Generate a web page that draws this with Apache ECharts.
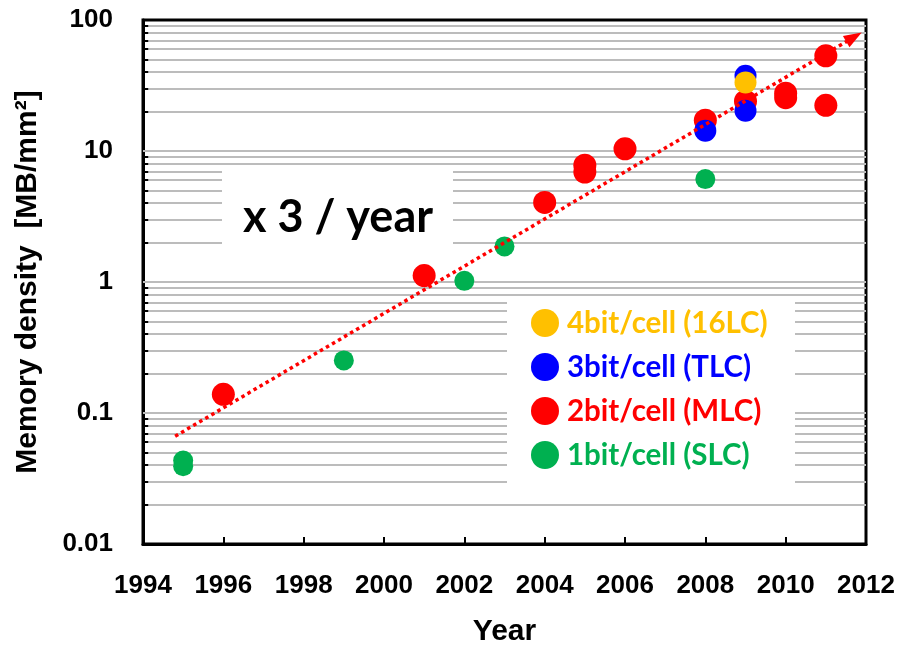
<!DOCTYPE html>
<html>
<head>
<meta charset="utf-8">
<script src="https://cdn.jsdelivr.net/npm/echarts@6/dist/echarts.min.js"></script>
<style>html,body{margin:0;padding:0;background:#fff;}#c{width:901px;height:652px;}</style>
</head>
<body>
<div id="c"></div>
<script>
// ---- data ----
const slcYears = [1995, 1995, 1999, 2002, 2003, 2008];
const slcValues = [0.0434, 0.0393, 0.252, 1.02, 1.87, 6.1];
const mlcYears = [1996, 2001, 2004, 2005, 2005, 2006, 2008, 2009, 2010, 2010, 2011, 2011];
const mlcValues = [0.139, 1.12, 4.05, 7.8, 6.9, 10.4, 17.2, 24, 27.6, 25.5, 53.3, 22.3];
const tlcYears = [2008, 2009, 2009];
const tlcValues = [14.3, 37.5, 20.3];
const qlcYears = [2009];
const qlcValues = [33.4];
const trendYears = [1994.8, 2011.7];
const trendValues = [0.0665, 74];
const seriesNames = ['4bit/cell (16LC)', '3bit/cell (TLC)', '2bit/cell (MLC)', '1bit/cell (SLC)'];
const yTickLabels = ['0.01', '0.1', '1', '10', '100'];
const decades = [0.01, 0.1, 1, 10];
const minorMultipliers = [1, 2, 3, 4, 5, 6, 7, 8, 9];

const colors = { qlc: '#FFC000', tlc: '#0000FF', mlc: '#FF0000', slc: '#00B050' };

function pairs(xs, ys) { return xs.map((x, i) => [x, ys[i]]); }

const gridVals = [];
decades.forEach(d => minorMultipliers.forEach(m => { const v = +(d * m).toPrecision(3); if (v > 0.01) gridVals.push(v); }));
const minorTickVals = gridVals.filter(v => !yTickLabels.includes(String(v)));

const chart = echarts.init(document.getElementById('c'), null, { renderer: 'canvas' });
const axisFont = { fontFamily: 'Liberation Sans', fontWeight: 'bold', fontSize: 26, color: '#000' };

const option = {
  animation: false,
  backgroundColor: '#fff',
  grid: { left: 143, right: 35, top: 20, bottom: 107, show: true, borderColor: '#000', borderWidth: 3 },
  xAxis: {
    type: 'value', min: 1994, max: 2012, interval: 2,
    name: 'Year', nameLocation: 'middle', nameGap: 73,
    nameTextStyle: { fontFamily: 'Liberation Sans', fontWeight: 'bold', fontSize: 30, color: '#000' },
    axisLine: { lineStyle: { color: '#000', width: 3 } },
    axisTick: { inside: true, length: 7, lineStyle: { color: '#000', width: 2 } },
    axisLabel: Object.assign({ margin: 29, formatter: v => String(v) }, axisFont),
    splitLine: { show: false }
  },
  yAxis: {
    type: 'log', logBase: 10, min: 0.01, max: 100,
    name: 'Memory density  [MB/mm²]', nameLocation: 'middle', nameGap: 100,
    nameTextStyle: { fontFamily: 'Liberation Sans', fontWeight: 'bold', fontSize: 30, color: '#000' },
    axisLine: { show: true, lineStyle: { color: '#000', width: 3 } },
    axisTick: { inside: true, length: 8, lineStyle: { color: '#000', width: 2 } },
    axisLabel: Object.assign({
      margin: 30,
      formatter: v => { const k = Math.round(Math.log10(v)) + 2; return yTickLabels[k] || ''; }
    }, axisFont),
    splitLine: { show: false }
  },
  legend: {
    orient: 'vertical', left: 526, top: 303, z: 10,
    itemWidth: 28, itemHeight: 28, itemGap: 14, icon: 'circle',
    textStyle: { fontFamily: 'Lato', fontWeight: 'bold', fontSize: 29.5, lineHeight: 28, padding: [0, 0, 0, 3] },
    data: [
      { name: seriesNames[0], textStyle: { color: colors.qlc } },
      { name: seriesNames[1], textStyle: { color: colors.tlc } },
      { name: seriesNames[2], textStyle: { color: colors.mlc } },
      { name: seriesNames[3], textStyle: { color: colors.slc } }
    ]
  },
  graphic: [
    { type: 'rect', z: 3, shape: { x: 222, y: 167, width: 231, height: 98 }, style: { fill: '#fff' } },
    { type: 'text', z: 4, x: 338, y: 217, style: { text: 'x 3 / year', font: 'bold 45px Lato', fill: '#000', textAlign: 'center', textVerticalAlign: 'middle' } },
    { type: 'rect', z: 3, shape: { x: 507, y: 298, width: 288, height: 194 }, style: { fill: '#fff' } }
  ],
  series: [
    {
      type: 'line', name: 'grid', data: [], silent: true, z: 1,
      markLine: {
        silent: true, z: 1, symbol: 'none', label: { show: false }, animation: false,
        lineStyle: { color: '#bcbcbc', width: 2, type: 'solid' },
        data: gridVals.map(v => ({ yAxis: v }))
      }
    },
    {
      type: 'line', name: 'minorTicks', data: [], silent: true, z: 2,
      markLine: {
        silent: true, z: 2, symbol: 'none', label: { show: false }, animation: false,
        lineStyle: { color: '#000', width: 2, type: 'solid' },
        data: minorTickVals.map(v => [{ coord: [1994, v] }, { coord: [1994.13, v] }])
      }
    },
    { type: 'scatter', name: seriesNames[3], z: 5, symbol: 'circle', symbolSize: 20, itemStyle: { color: colors.slc, opacity: 1 }, data: pairs(slcYears, slcValues) },
    { type: 'scatter', name: seriesNames[2], z: 5, symbol: 'circle', symbolSize: 23, itemStyle: { color: colors.mlc, opacity: 1 }, data: pairs(mlcYears, mlcValues) },
    { type: 'scatter', name: seriesNames[1], z: 5, symbol: 'circle', symbolSize: 22, itemStyle: { color: colors.tlc, opacity: 1 }, data: pairs(tlcYears, tlcValues) },
    { type: 'scatter', name: seriesNames[0], z: 5, symbol: 'circle', symbolSize: 22, itemStyle: { color: colors.qlc, opacity: 1 }, data: pairs(qlcYears, qlcValues) },
    {
      type: 'line', name: 'trend', data: [], silent: true, z: 6,
      markLine: {
        silent: true, z: 6, symbol: 'none', label: { show: false }, animation: false,
        lineStyle: { color: '#FF0000', width: 3.5, type: [3.5, 3.5], opacity: 1 },
        data: [[{ coord: [trendYears[0], trendValues[0]] }, { coord: [trendYears[1], trendValues[1]] }]]
      }
    },
    {
      type: 'scatter', name: 'trendArrow', silent: true, z: 6,
      symbol: 'triangle', symbolSize: [13, 18], symbolRotate: -59.5,
      itemStyle: { color: '#FF0000', opacity: 1 },
      data: [[trendYears[1], trendValues[1]]]
    }
  ]
};
chart.setOption(option);
</script>
</body>
</html>
